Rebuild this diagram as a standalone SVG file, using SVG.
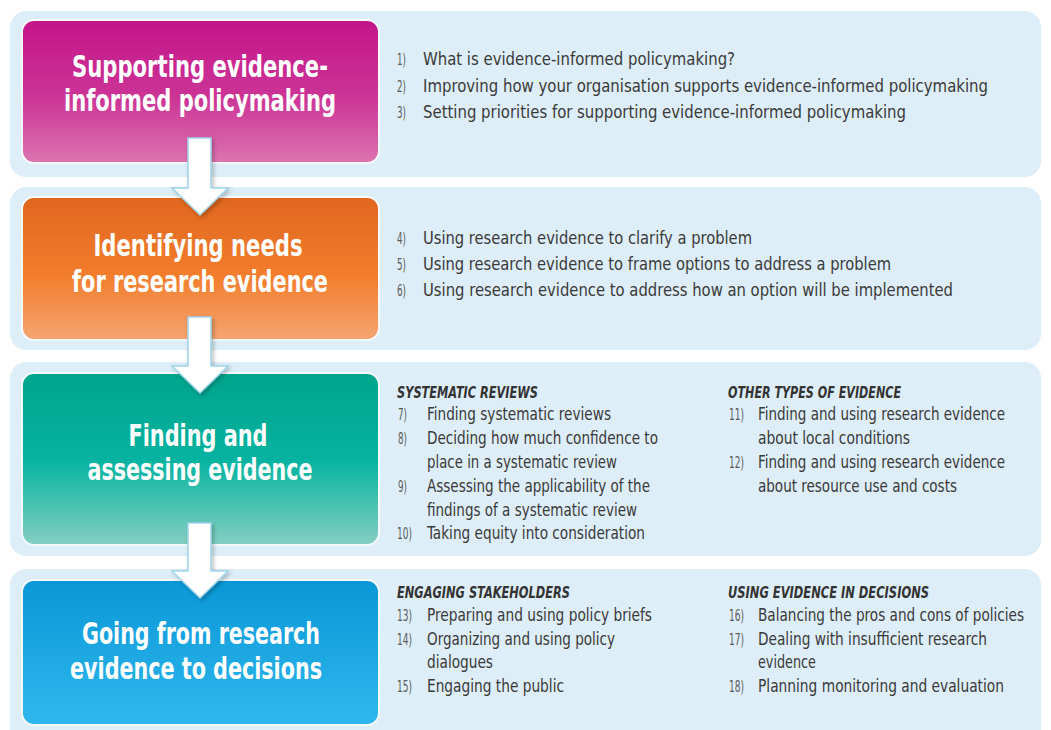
<svg xmlns="http://www.w3.org/2000/svg" width="1051" height="730" viewBox="0 0 1051 730">
<defs>
<style>
.panel{fill:#ddeef8;}
.box{stroke:#f4f9fc;stroke-width:2;}
.title{font-family:"DejaVu Sans Condensed","Liberation Sans Narrow","Roboto Condensed","DejaVu Sans",sans-serif;font-weight:bold;font-size:30px;fill:#ffffff;text-anchor:middle;}
.item{font-family:"DejaVu Sans Condensed","Liberation Sans Narrow","Roboto Condensed","DejaVu Sans",sans-serif;font-size:17px;fill:#3a3a3a;}
.num{font-family:"DejaVu Sans Condensed","Liberation Sans Narrow","Roboto Condensed","DejaVu Sans",sans-serif;font-size:15px;fill:#5a5a5a;}
.head{font-family:"DejaVu Sans Condensed","Liberation Sans Narrow","Roboto Condensed","DejaVu Sans",sans-serif;font-size:16px;font-weight:bold;font-style:italic;fill:#333333;}
.arrow{fill:#ffffff;stroke:#9fd4ea;stroke-width:1.5;}
</style>
<linearGradient id="gMag" x1="0" y1="0" x2="0" y2="1"><stop offset="0" stop-color="#c4148a"/><stop offset="0.55" stop-color="#cc3596"/><stop offset="1" stop-color="#dc74b0"/></linearGradient>
<linearGradient id="gOra" x1="0" y1="0" x2="0" y2="1"><stop offset="0" stop-color="#e0661e"/><stop offset="0.55" stop-color="#f27d2c"/><stop offset="1" stop-color="#f5a572"/></linearGradient>
<linearGradient id="gTea" x1="0" y1="0" x2="0" y2="1"><stop offset="0" stop-color="#00a48c"/><stop offset="0.5" stop-color="#05b3a0"/><stop offset="1" stop-color="#84cfc2"/></linearGradient>
<linearGradient id="gBlu" x1="0" y1="0" x2="0" y2="1"><stop offset="0" stop-color="#0a97d6"/><stop offset="1" stop-color="#2fb8ee"/></linearGradient>
<filter id="sh" x="-20%" y="-20%" width="140%" height="140%"><feDropShadow dx="2" dy="2" stdDeviation="2" flood-color="#000000" flood-opacity="0.25"/></filter>
</defs>
<rect width="1051" height="730" fill="#ffffff"/>

<g id="stage1">
<rect class="panel" x="10" y="11" width="1031" height="166" rx="16"/>
<rect class="box" x="22" y="20" width="357" height="143" rx="12" fill="url(#gMag)"/>
<text class="title" x="200" y="77" textLength="256" lengthAdjust="spacingAndGlyphs">Supporting evidence-</text>
<text class="title" x="200" y="111" textLength="272" lengthAdjust="spacingAndGlyphs">informed policymaking</text>
<text class="num" x="397" y="65" textLength="9" lengthAdjust="spacingAndGlyphs">1)</text><text class="item" x="423" y="65" textLength="312" lengthAdjust="spacingAndGlyphs">What is evidence-informed policymaking?</text>
<text class="num" x="397" y="92" textLength="9" lengthAdjust="spacingAndGlyphs">2)</text><text class="item" x="423" y="92" textLength="565" lengthAdjust="spacingAndGlyphs">Improving how your organisation supports evidence-informed policymaking</text>
<text class="num" x="397" y="118" textLength="9" lengthAdjust="spacingAndGlyphs">3)</text><text class="item" x="423" y="118" textLength="483" lengthAdjust="spacingAndGlyphs">Setting priorities for supporting evidence-informed policymaking</text>
</g>

<g id="stage2">
<rect class="panel" x="10" y="187" width="1031" height="163" rx="16"/>
<rect class="box" x="22" y="197" width="357" height="143" rx="12" fill="url(#gOra)"/>
<text class="title" x="198" y="256" textLength="209" lengthAdjust="spacingAndGlyphs">Identifying needs</text>
<text class="title" x="200" y="292" textLength="256" lengthAdjust="spacingAndGlyphs">for research evidence</text>
<text class="num" x="397" y="244" textLength="9" lengthAdjust="spacingAndGlyphs">4)</text><text class="item" x="423" y="244" textLength="329" lengthAdjust="spacingAndGlyphs">Using research evidence to clarify a problem</text>
<text class="num" x="397" y="270" textLength="9" lengthAdjust="spacingAndGlyphs">5)</text><text class="item" x="423" y="270" textLength="468" lengthAdjust="spacingAndGlyphs">Using research evidence to frame options to address a problem</text>
<text class="num" x="397" y="296" textLength="9" lengthAdjust="spacingAndGlyphs">6)</text><text class="item" x="423" y="296" textLength="530" lengthAdjust="spacingAndGlyphs">Using research evidence to address how an option will be implemented</text>
</g>

<g id="stage3">
<rect class="panel" x="10" y="362" width="1031" height="194" rx="16"/>
<rect class="box" x="22" y="373" width="357" height="172" rx="12" fill="url(#gTea)"/>
<text class="title" x="198" y="446" textLength="139" lengthAdjust="spacingAndGlyphs">Finding and</text>
<text class="title" x="200" y="480" textLength="225" lengthAdjust="spacingAndGlyphs">assessing evidence</text>
<text class="head" x="397" y="398" textLength="141" lengthAdjust="spacingAndGlyphs">SYSTEMATIC REVIEWS</text>
<text class="num" x="398" y="420" textLength="9" lengthAdjust="spacingAndGlyphs">7)</text><text class="item" x="427" y="420" textLength="184" lengthAdjust="spacingAndGlyphs">Finding systematic reviews</text>
<text class="num" x="398" y="444" textLength="9" lengthAdjust="spacingAndGlyphs">8)</text><text class="item" x="427" y="444" textLength="231" lengthAdjust="spacingAndGlyphs">Deciding how much confidence to</text>
<text class="item" x="427" y="468" textLength="190" lengthAdjust="spacingAndGlyphs">place in a systematic review</text>
<text class="num" x="398" y="492" textLength="9" lengthAdjust="spacingAndGlyphs">9)</text><text class="item" x="427" y="492" textLength="223" lengthAdjust="spacingAndGlyphs">Assessing the applicability of the</text>
<text class="item" x="427" y="516" textLength="210" lengthAdjust="spacingAndGlyphs">findings of a systematic review</text>
<text class="num" x="397" y="539" textLength="15" lengthAdjust="spacingAndGlyphs">10)</text><text class="item" x="427" y="539" textLength="218" lengthAdjust="spacingAndGlyphs">Taking equity into consideration</text>
<text class="head" x="728" y="398" textLength="173" lengthAdjust="spacingAndGlyphs">OTHER TYPES OF EVIDENCE</text>
<text class="num" x="729" y="420" textLength="15" lengthAdjust="spacingAndGlyphs">11)</text><text class="item" x="758" y="420" textLength="247" lengthAdjust="spacingAndGlyphs">Finding and using research evidence</text>
<text class="item" x="758" y="444" textLength="152" lengthAdjust="spacingAndGlyphs">about local conditions</text>
<text class="num" x="729" y="468" textLength="15" lengthAdjust="spacingAndGlyphs">12)</text><text class="item" x="758" y="468" textLength="247" lengthAdjust="spacingAndGlyphs">Finding and using research evidence</text>
<text class="item" x="758" y="492" textLength="199" lengthAdjust="spacingAndGlyphs">about resource use and costs</text>
</g>

<g id="stage4">
<rect class="panel" x="10" y="569" width="1031" height="175" rx="16"/>
<rect class="box" x="22" y="580" width="357" height="145" rx="12" fill="url(#gBlu)"/>
<text class="title" x="201" y="644" textLength="238" lengthAdjust="spacingAndGlyphs">Going from research</text>
<text class="title" x="196" y="679" textLength="252" lengthAdjust="spacingAndGlyphs">evidence to decisions</text>
<text class="head" x="397" y="598" textLength="173" lengthAdjust="spacingAndGlyphs">ENGAGING STAKEHOLDERS</text>
<text class="num" x="397" y="621" textLength="15" lengthAdjust="spacingAndGlyphs">13)</text><text class="item" x="427" y="621" textLength="225" lengthAdjust="spacingAndGlyphs">Preparing and using policy briefs</text>
<text class="num" x="397" y="645" textLength="15" lengthAdjust="spacingAndGlyphs">14)</text><text class="item" x="427" y="645" textLength="188" lengthAdjust="spacingAndGlyphs">Organizing and using policy</text>
<text class="item" x="427" y="668" textLength="66" lengthAdjust="spacingAndGlyphs">dialogues</text>
<text class="num" x="397" y="692" textLength="15" lengthAdjust="spacingAndGlyphs">15)</text><text class="item" x="427" y="692" textLength="137" lengthAdjust="spacingAndGlyphs">Engaging the public</text>
<text class="head" x="728" y="598" textLength="201" lengthAdjust="spacingAndGlyphs">USING EVIDENCE IN DECISIONS</text>
<text class="num" x="729" y="621" textLength="15" lengthAdjust="spacingAndGlyphs">16)</text><text class="item" x="758" y="621" textLength="266" lengthAdjust="spacingAndGlyphs">Balancing the pros and cons of policies</text>
<text class="num" x="729" y="645" textLength="15" lengthAdjust="spacingAndGlyphs">17)</text><text class="item" x="758" y="645" textLength="229" lengthAdjust="spacingAndGlyphs">Dealing with insufficient research</text>
<text class="item" x="758" y="668" textLength="58" lengthAdjust="spacingAndGlyphs">evidence</text>
<text class="num" x="729" y="692" textLength="15" lengthAdjust="spacingAndGlyphs">18)</text><text class="item" x="758" y="692" textLength="246" lengthAdjust="spacingAndGlyphs">Planning monitoring and evaluation</text>
</g>

<g id="connectors" filter="url(#sh)">
<path class="arrow" d="M188,138 H211 V188 H228 L200,215 L172,188 H188 Z"/>
<path class="arrow" d="M188,317 H211 V366 H228 L200,393 L172,366 H188 Z"/>
<path class="arrow" d="M188,523 H211 V571 H228 L200,598 L172,571 H188 Z"/>
</g>
</svg>
